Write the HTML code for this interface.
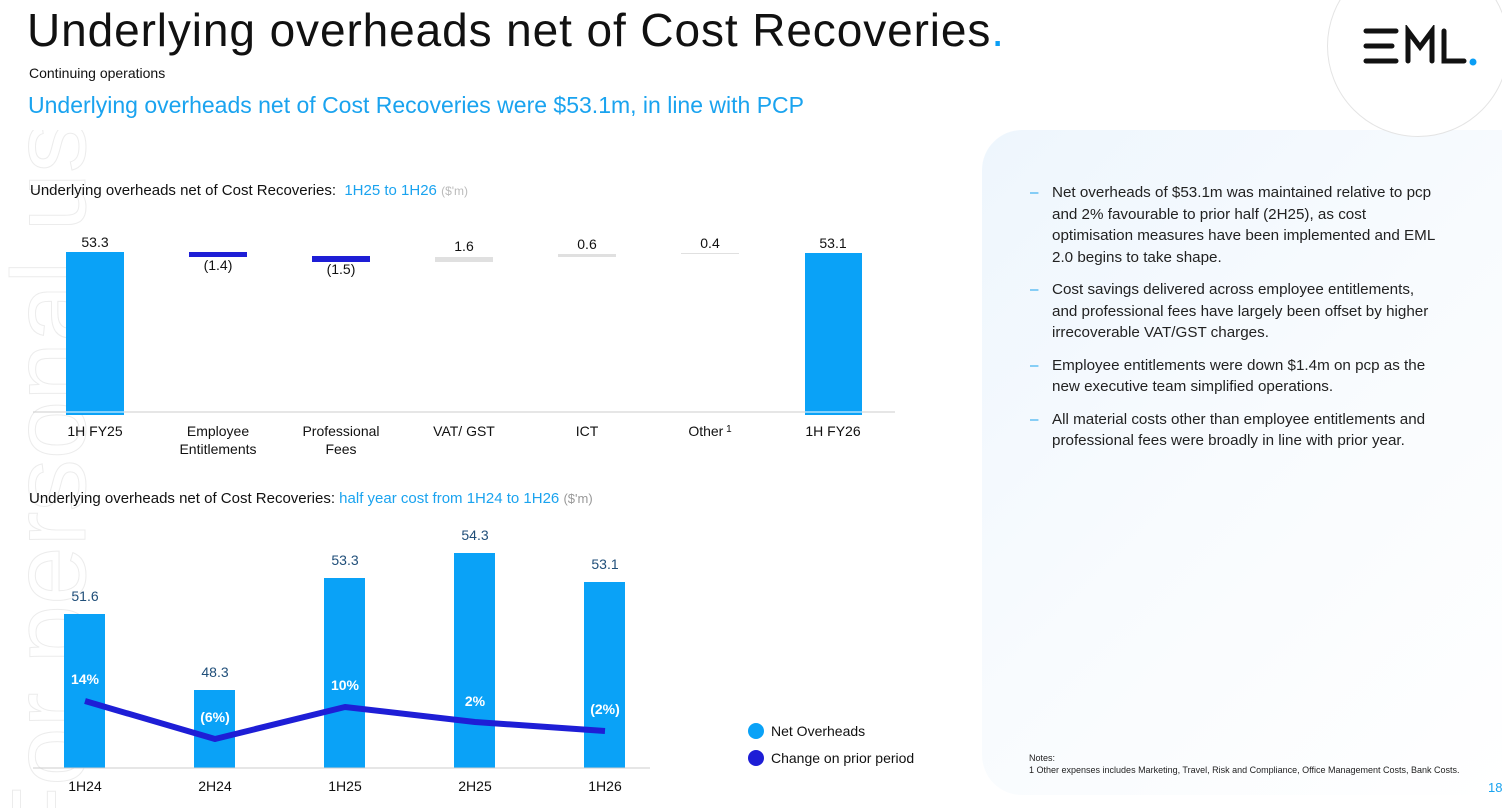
<!DOCTYPE html>
<html><head><meta charset="utf-8"><style>
html,body{margin:0;width:1502px;height:808px;overflow:hidden}
body{background:#fff;font-family:"Liberation Sans",sans-serif;position:relative}
.a{position:absolute;white-space:nowrap}
</style></head><body>
<svg class="a" style="left:0;top:130px;overflow:hidden" width="100" height="678"><text transform="translate(85,720) rotate(-90)" font-family="Liberation Sans" font-size="105" fill="none" stroke="#ececec" stroke-width="1">For personal use only</text></svg>
<div class="a" style="left:982px;top:130px;width:520px;height:665px;border-radius:40px 0 0 40px;background:linear-gradient(135deg,#eef6fd 0%,#f8fbfe 50%,#fff 100%)"></div>
<div class="a" style="left:1327px;top:-45px;width:180px;height:180px;border-radius:50%;border:1px solid #e4e4e4;background:#fff"></div>
<svg class="a" style="left:1360px;top:25px" width="130" height="50" stroke="#111" stroke-width="5" stroke-linecap="round" fill="none">
<line x1="6" y1="6" x2="36" y2="6"/><line x1="6" y1="21" x2="32" y2="21"/><line x1="6" y1="36" x2="36" y2="36"/>
<polyline points="48,36 48,6 60,22 72,6 72,36"/><polyline points="84,6 84,36 104,36"/>
<circle cx="113" cy="37" r="3.5" fill="#0a9ef5" stroke="none"/></svg>
<div class="a" style="left:27px;top:3px;font-size:46px;letter-spacing:0.9px;color:#111">Underlying overheads net of Cost Recoveries<span style="color:#0a9ef5">.</span></div>
<div class="a" style="left:29px;top:65px;font-size:14px;color:#111">Continuing operations</div>
<div class="a" style="left:28px;top:92px;font-size:23px;color:#1aa3ef">Underlying overheads net of Cost Recoveries were $53.1m, in line with PCP</div>
<div class="a" style="left:30px;top:182px;font-size:15px;color:#111">Underlying overheads net of Cost Recoveries:&nbsp; <span style="color:#1aa3ef">1H25 to 1H26</span> <span style="color:#bbb;font-size:12px">($'m)</span></div>
<div class="a" style="left:29px;top:490px;font-size:15px;color:#111">Underlying overheads net of Cost Recoveries: <span style="color:#1aa3ef">half year cost from 1H24 to 1H26</span> <span style="color:#999;font-size:13px">($'m)</span></div>
<svg class="a" style="left:0;top:0" width="980" height="808" font-family="Liberation Sans" font-size="14" text-anchor="middle">
<line x1="33" y1="412" x2="895" y2="412" stroke="#ccc"/>
<rect x="66" y="252" width="58" height="163" fill="#0aa2f7"/><line x1="66" y1="412" x2="124" y2="412" stroke="#fff"/>
<rect x="189" y="252" width="58" height="5" fill="#1e1ed6"/>
<rect x="312" y="256" width="58" height="6" fill="#1e1ed6"/>
<rect x="435" y="257" width="58" height="5" fill="#e0e0e0"/>
<rect x="558" y="254" width="58" height="3" fill="#e0e0e0"/>
<rect x="681" y="253" width="58" height="1" fill="#e0e0e0"/>
<rect x="805" y="253" width="57" height="162" fill="#0aa2f7"/><line x1="805" y1="412" x2="862" y2="412" stroke="#fff"/>
<g fill="#111"><text x="95" y="247">53.3</text><text x="218" y="270">(1.4)</text><text x="341" y="274">(1.5)</text><text x="464" y="251">1.6</text><text x="587" y="249">0.6</text><text x="710" y="248">0.4</text><text x="833" y="248">53.1</text>
<text x="95" y="436">1H FY25</text><text x="218" y="436">Employee</text><text x="218" y="454">Entitlements</text><text x="341" y="436">Professional</text><text x="341" y="454">Fees</text><text x="464" y="436">VAT/ GST</text><text x="587" y="436">ICT</text><text x="710" y="436">Other<tspan font-size="10" dy="-4"> 1</tspan></text><text x="833" y="436">1H FY26</text></g>
<g fill="#0aa2f7"><rect x="64" y="614" width="41" height="154"/><rect x="194" y="690" width="41" height="78"/><rect x="324" y="578" width="41" height="190"/><rect x="454" y="553" width="41" height="215"/><rect x="584" y="582" width="41" height="186"/></g>
<line x1="33" y1="768" x2="650" y2="768" stroke="#ccc"/>
<polyline points="85,701 215,739 345,707 475,722 605,731" fill="none" stroke="#1e1ed6" stroke-width="6" stroke-linejoin="round"/>
<g fill="#1f4e79"><text x="85" y="601">51.6</text><text x="215" y="677">48.3</text><text x="345" y="565">53.3</text><text x="475" y="540">54.3</text><text x="605" y="569">53.1</text></g>
<g fill="#fff" font-weight="bold"><text x="85" y="684">14%</text><text x="215" y="722">(6%)</text><text x="345" y="690">10%</text><text x="475" y="706">2%</text><text x="605" y="714">(2%)</text></g>
<g fill="#111"><text x="85" y="791">1H24</text><text x="215" y="791">2H24</text><text x="345" y="791">1H25</text><text x="475" y="791">2H25</text><text x="605" y="791">1H26</text></g>
<circle cx="756" cy="731" r="8" fill="#0aa2f7"/><circle cx="756" cy="758" r="8" fill="#1e1ed6"/>
<g fill="#111" text-anchor="start"><text x="771" y="736">Net Overheads</text><text x="771" y="763">Change on prior period</text></g>
</svg>
<div class="a" style="left:1030px;top:182px;font-size:15.2px;line-height:21.5px;color:#222;white-space:normal;width:412px">
<div style="position:relative;padding-left:22px;margin-bottom:11px"><span style="position:absolute;left:0;color:#1aa3ef">–</span>Net overheads of $53.1m was maintained relative to pcp and 2% favourable to prior half (2H25), as cost optimisation measures have been implemented and EML 2.0 begins to take shape.</div>
<div style="position:relative;padding-left:22px;margin-bottom:11px"><span style="position:absolute;left:0;color:#1aa3ef">–</span>Cost savings delivered across employee entitlements, and professional fees have largely been offset by higher irrecoverable VAT/GST charges.</div>
<div style="position:relative;padding-left:22px;margin-bottom:11px"><span style="position:absolute;left:0;color:#1aa3ef">–</span>Employee entitlements were down $1.4m on pcp as the new executive team simplified operations.</div>
<div style="position:relative;padding-left:22px"><span style="position:absolute;left:0;color:#1aa3ef">–</span>All material costs other than employee entitlements and professional fees were broadly in line with prior year.</div>
</div>
<div class="a" style="left:1029px;top:752px;font-size:9px;line-height:12px;color:#222">Notes:<br>1 Other expenses includes Marketing, Travel, Risk and Compliance, Office Management Costs, Bank Costs.</div>
<div class="a" style="left:1488px;top:780px;font-size:13px;color:#1aa3ef">18</div>
</body></html>
